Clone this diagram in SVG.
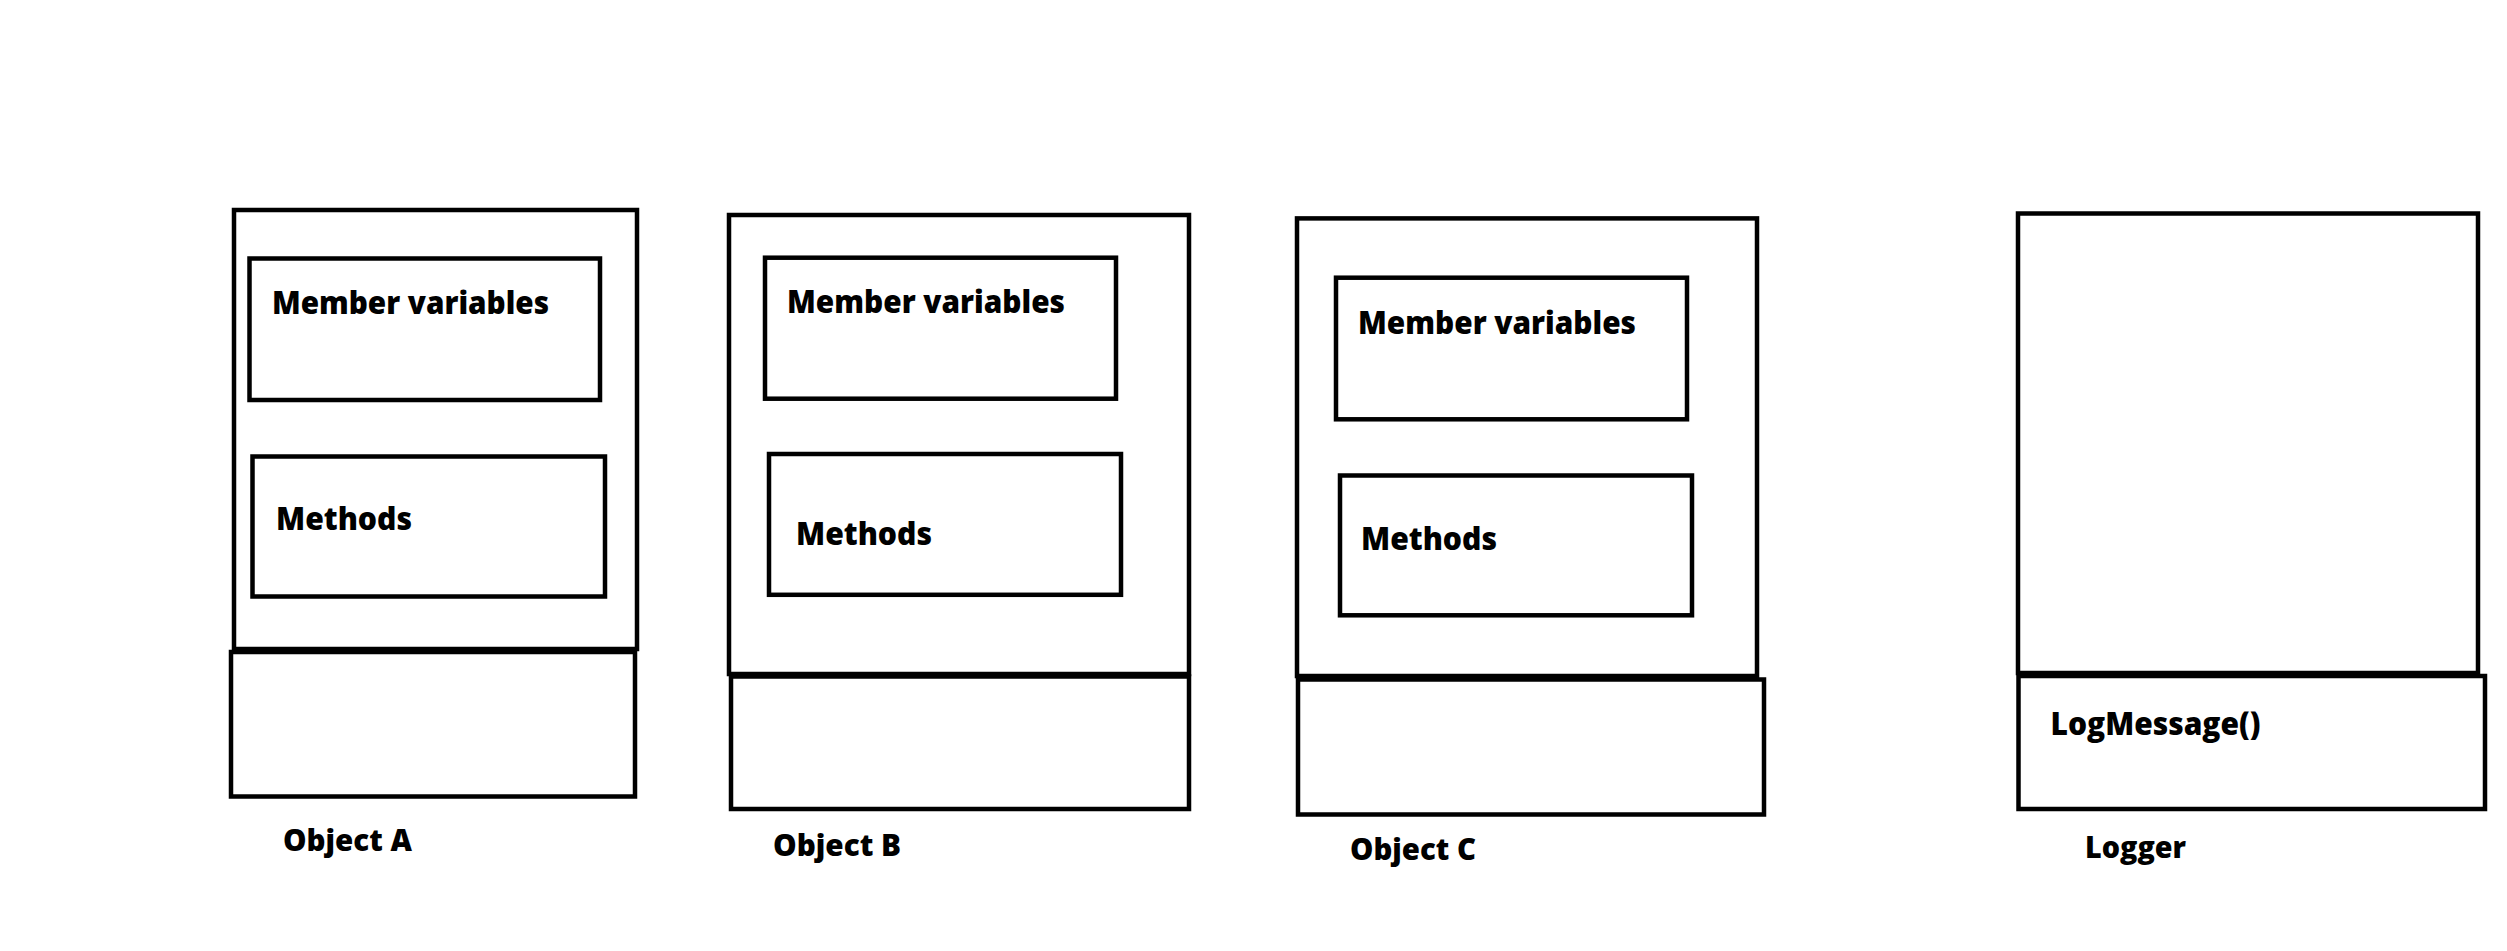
<svg xmlns="http://www.w3.org/2000/svg" width="2507" height="951" viewBox="0 0 2507 951">
<style>
rect{fill:none;stroke:#000;stroke-width:4.5}
.t{font-family:"Open Sans","Liberation Sans",sans-serif;font-weight:800;font-size:31px;fill:#000}
.o{font-family:"Open Sans","Liberation Sans",sans-serif;font-weight:800;font-size:30px;fill:#000}
</style>
<rect x="0" y="0" width="2507" height="951" style="fill:#fff;stroke:none"/>
<g id="objectA">
<rect x="234" y="210" width="403" height="439"/>
<rect x="231" y="652" width="404" height="144.5"/>
<rect x="249.5" y="258.5" width="350.5" height="141.5"/>
<text class="t" x="272" y="314" textLength="277" lengthAdjust="spacingAndGlyphs">Member variables</text>
<rect x="252.5" y="456.5" width="352.5" height="140"/>
<text class="t" x="276" y="530" textLength="136" lengthAdjust="spacingAndGlyphs">Methods</text>
<text class="o" x="283" y="851" textLength="129" lengthAdjust="spacingAndGlyphs">Object A</text>
</g>
<g id="objectB">
<rect x="729" y="215" width="460" height="459"/>
<rect x="731" y="676.5" width="458" height="132.5"/>
<rect x="765" y="257.7" width="351" height="141"/>
<text class="t" x="787" y="313" textLength="278" lengthAdjust="spacingAndGlyphs">Member variables</text>
<rect x="769" y="454" width="352" height="140.8"/>
<text class="t" x="796" y="545" textLength="136" lengthAdjust="spacingAndGlyphs">Methods</text>
<text class="o" x="773" y="856" textLength="128" lengthAdjust="spacingAndGlyphs">Object B</text>
</g>
<g id="objectC">
<rect x="1297" y="218.4" width="460" height="457.6"/>
<rect x="1298" y="679.5" width="466" height="135"/>
<rect x="1336" y="277.7" width="351" height="141.6"/>
<text class="t" x="1358" y="334" textLength="278" lengthAdjust="spacingAndGlyphs">Member variables</text>
<rect x="1340" y="475.5" width="352" height="139.8"/>
<text class="t" x="1361" y="549.5" textLength="136" lengthAdjust="spacingAndGlyphs">Methods</text>
<text class="o" x="1350" y="859.5" textLength="126" lengthAdjust="spacingAndGlyphs">Object C</text>
</g>
<g id="logger">
<rect x="2018" y="213.5" width="460" height="459.5"/>
<rect x="2018.5" y="676" width="466.5" height="133"/>
<text class="t" x="2050.5" y="735" font-size="32" textLength="210" lengthAdjust="spacingAndGlyphs">LogMessage()</text>
<text class="o" x="2085" y="858" textLength="101" lengthAdjust="spacingAndGlyphs">Logger</text>
</g>
<g id="connectors"></g>
</svg>
